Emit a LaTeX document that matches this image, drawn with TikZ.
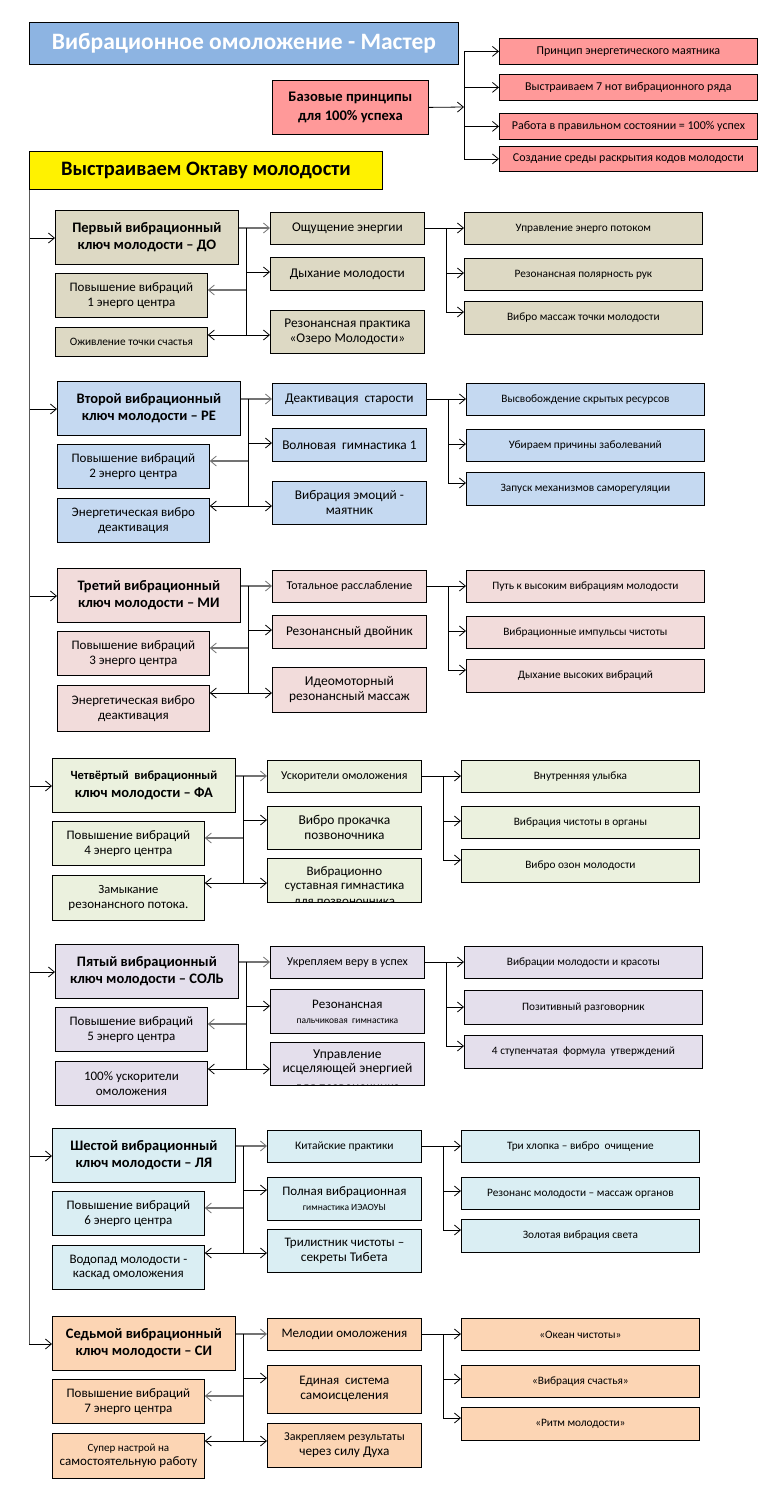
\documentclass[tikz,border=0pt]{standalone}
\usepackage{fontspec}
\setmainfont{Carlito}
\usetikzlibrary{arrows.meta}
\definecolor{cTitle}{RGB}{141,180,226}
\definecolor{cRed}{RGB}{255,153,153}
\definecolor{cSa}{RGB}{221,217,196}
\definecolor{cSb}{RGB}{197,217,241}
\definecolor{cSc}{RGB}{242,220,219}
\definecolor{cSd}{RGB}{235,241,222}
\definecolor{cSe}{RGB}{228,223,236}
\definecolor{cSf}{RGB}{218,238,243}
\definecolor{cSg}{RGB}{252,213,180}
\tikzset{
 bx/.style={draw=black, line width=0.8pt, inner sep=1pt, align=center, anchor=north west, text=black},
 keyf/.style={font=\fontsize{14.5}{17.5}\selectfont\bfseries},
 lf/.style={font=\fontsize{13}{14.5}\selectfont},
 mf/.style={font=\fontsize{13.3}{15}\selectfont},
 rf/.style={font=\fontsize{11.3}{13}\selectfont},
 ln/.style={draw=black, line width=0.8pt},
 arr/.style={ln, -{Straight Barb[length=6pt,width=10pt,line width=0.8pt]}},
 gln/.style={ln, draw=black!55, line width=1.2pt},
 garr/.style={arr, draw=black!55, line width=1.2pt},
}
\newcommand\Section[9]{%
\begin{scope}[shift={(#3,#2)}]
\node[bx,keyf,fill=#4,minimum width=183pt,minimum height=54pt] (k#1) at (55,0) {\tK};
\node[bx,lf,fill=#4,minimum width=152pt,minimum height=44pt] (la#1) at (55,63) {\tLa};
\node[bx,lf,fill=#4,minimum width=152pt,minimum height=#9pt] (lb#1) at (55,117) {\tLb};
\node[bx,mf,fill=#4,minimum width=154pt,minimum height=32pt] (ma#1) at (270,2) {\tMa};
\node[bx,mf,fill=#4,minimum width=154pt,minimum height=#6pt] (mb#1) at (270,#5) {\tMb};
\node[bx,mf,fill=#4,minimum width=154pt,minimum height=#8pt] (mc#1) at (270,#7) {\tMc};
\node[bx,rf,fill=#4,minimum width=238pt,minimum height=32pt] (ra#1) at (464,2) {\tRa};
\node[bx,rf,fill=#4,minimum width=238pt,minimum height=\hRb] (rb#1) at (464,\yRb) {\tRb};
\node[bx,rf,fill=#4,minimum width=238pt,minimum height=33pt] (rc#1) at (464,91) {\tRc};
\coordinate (j#1) at ({29-(#3)},28);
\coordinate (va#1) at (246,18);
\coordinate (vm#1) at (246,62);
\coordinate (vl#1) at (246,80);
\coordinate (vb#1) at (246,125);
\coordinate (wa#1) at (446,18);
\coordinate (wm#1) at (446,63);
\coordinate (wb#1) at (446,102);
\end{scope}
\draw[arr] (j#1) -- (j#1 -| k#1.west);
\draw[gln] (va#1 -| k#1.east) -- (va#1);
\draw[garr] (va#1) -- (va#1 -| ma#1.west);
\draw[ln] (va#1) -- (vb#1);
\draw[arr] (vm#1) -- (vm#1 -| mb#1.west);
\draw[garr] (vl#1) -- (vl#1 -| la#1.east);
\draw[arr] (vb#1) -- (vb#1 -| lb#1.east);
\draw[arr] (vb#1) -- (vb#1 -| mc#1.west);
\draw[ln] (wa#1 -| ma#1.east) -- (wa#1) -- (wb#1);
\draw[arr] (wa#1) -- (wa#1 -| ra#1.west);
\draw[arr] (wm#1) -- (wm#1 -| rb#1.west);
\draw[arr] (wb#1) -- (wb#1 -| rc#1.west);
}
\begin{document}
\begin{tikzpicture}[x=1pt,y=-1pt]
\useasboundingbox (0,0) rectangle (772,1485);
\fill[white] (0,0) rectangle (772,1485);
% top part
\node[bx,fill=cTitle,text=white,font=\fontsize{23.5}{27}\selectfont\bfseries,minimum width=429pt,minimum height=42pt] (title) at (29,22) {Вибрационное омоложение - Мастер};
\node[bx,fill=cRed,font=\fontsize{14.6}{19.5}\selectfont\bfseries,minimum width=156pt,minimum height=54pt] (base) at (272,80) {Базовые принципы\\для 100\% успеха};
\node[bx,fill=cRed,font=\fontsize{12}{13}\selectfont,minimum width=258pt,minimum height=26pt] (p1) at (499,38) {Принцип энергетического маятника};
\node[bx,fill=cRed,font=\fontsize{12}{13}\selectfont,minimum width=258pt,minimum height=26pt] (p2) at (499,74) {Выстраиваем 7 нот вибрационного ряда};
\node[bx,fill=cRed,font=\fontsize{12}{13}\selectfont,minimum width=258pt,minimum height=26pt] (p3) at (499,113) {Работа в правильном состоянии = 100\% успех};
\node[bx,fill=cRed,font=\fontsize{12}{13}\selectfont,minimum width=258pt,minimum height=25pt] (p4) at (499,146) {Создание среды раскрытия кодов молодости};
\coordinate (bj) at (464,107);
\draw[arr] (base.east) -- (bj);
\draw[ln] (bj |- p1.west) -- (bj |- p4.west);
\foreach \p in {p1,p2,p3,p4} \draw[arr] (bj |- \p.west) -- (\p.west);
\node[bx,fill=yellow,font=\fontsize{20.5}{24}\selectfont\bfseries,minimum width=353pt,minimum height=38pt] (oct) at (29,151) {Выстраиваем Октаву молодости};
\def\hRb{32pt}\def\yRb{48}
% Section 1
\def\tK{Первый вибрационный\\ключ молодости – ДО}
\def\tLa{Повышение вибраций\\1 энерго центра}
\def\tLb{\fontsize{11.3}{13}\selectfont Оживление точки счастья}
\def\tMa{Ощущение энергии}
\def\tMb{Дыхание молодости}
\def\tMc{Резонансная практика\\«Озеро Молодости»}
\def\tRa{Управление энерго потоком}
\def\tRb{Резонансная полярность рук}
\def\tRc{Вибро массаж точки молодости}
\Section{1}{210}{0}{cSa}{47}{33}{100}{43}{29}
% Section 2
\def\tK{Второй вибрационный\\ключ молодости – РЕ}
\def\tLa{Повышение вибраций\\2 энерго центра}
\def\tLb{Энергетическая вибро\\деактивация}
\def\tMa{Деактивация \ старости}
\def\tMb{Волновая \ гимнастика 1}
\def\tMc{Вибрация эмоций -\\маятник}
\def\tRa{Высвобождение скрытых ресурсов}
\def\tRb{Убираем причины заболеваний}
\def\tRc{Запуск механизмов саморегуляции}
\Section{2}{381}{2}{cSb}{47}{33}{100}{43}{44}
% Section 3
\def\tK{Третий вибрационный\\ключ молодости – МИ}
\def\tLa{Повышение вибраций\\3 энерго центра}
\def\tLb{Энергетическая вибро\\деактивация}
\def\tMa{\fontsize{12}{13}\selectfont Тотальное расслабление}
\def\tMb{Резонансный двойник}
\def\tMc{\fontsize{13.5}{15}\selectfont Идеомоторный\\резонансный массаж}
\def\tRa{Путь к высоким вибрациям молодости}
\def\tRb{Вибрационные импульсы чистоты}
\def\tRc{Дыхание высоких вибраций}
\Section{3}{568}{2}{cSc}{47}{33}{99}{45}{46}
% Section 4
\def\tK{{\fontsize{12.5}{14}\selectfont Четвёртый \ вибрационный}\\ключ молодости – ФА}
\def\tLa{Повышение вибраций\\4 энерго центра}
\def\tLb{\fontsize{12.5}{14.5}\selectfont Замыкание\\резонансного потока.}
\def\tMa{\fontsize{12}{13}\selectfont Ускорители омоложения}
\def\tMb{\fontsize{13.5}{15}\selectfont Вибро прокачка\\позвоночника}
\def\tMc{}
\def\tRa{Внутренняя улыбка}
\def\tRb{Вибрация чистоты в органы}
\def\tRc{Вибро озон молодости}
\Section{4}{758}{-3}{cSd}{48}{43}{100}{44}{45}
\begin{scope}
\clip (mc4.north west) rectangle (mc4.south east);
\node[font=\fontsize{13}{14}\selectfont,anchor=base,inner sep=0pt] (mc4a) at ([yshift=-17pt]mc4.north) {Вибрационно};
\node[font=\fontsize{13}{14}\selectfont,anchor=base,inner sep=0pt] (mc4b) at ([yshift=-31pt]mc4.north) {суставная гимнастика};
\node[font=\fontsize{13}{14}\selectfont,anchor=base,inner sep=0pt] (mc4c) at ([yshift=-47pt]mc4.north) {для позвоночника};
\end{scope}
% Section 5
\def\hRb{34pt}\def\yRb{46}
\def\tK{Пятый вибрационный\\ключ молодости – СОЛЬ}
\def\tLa{Повышение вибраций\\5 энерго центра}
\def\tLb{100\% ускорители\\омоложения}
\def\tMa{\fontsize{12}{13}\selectfont Укрепляем веру в успех}
\def\tMb{\fontsize{13}{15}\selectfont Резонансная\\{\fontsize{9.5}{11}\selectfont пальчиковая \ гимнастика}}
\def\tMc{}
\def\tRa{Вибрации молодости и красоты}
\def\tRb{Позитивный разговорник}
\def\tRc{4 ступенчатая \ формула \ утверждений}
\Section{5}{944}{0}{cSe}{45}{44}{98}{43}{44}
\begin{scope}
\clip (mc5.north west) rectangle (mc5.south east);
\node[font=\fontsize{13.5}{14}\selectfont,anchor=base,inner sep=0pt] (mc5a) at ([yshift=-16pt]mc5.north) {Управление};
\node[font=\fontsize{13.5}{14}\selectfont,anchor=base,inner sep=0pt] (mc5b) at ([yshift=-30pt]mc5.north) {исцеляющей энергией};
\node[font=\fontsize{13.5}{14}\selectfont,anchor=base,inner sep=0pt] (mc5c) at ([yshift=-49pt]mc5.north) {для позвоночника};
\end{scope}
\def\hRb{32pt}\def\yRb{49}
% Section 6
\def\tK{Шестой вибрационный\\ключ молодости – ЛЯ}
\def\tLa{Повышение вибраций\\6 энерго центра}
\def\tLb{Водопад молодости -\\каскад омоложения}
\def\tMa{\fontsize{11.5}{13}\selectfont Китайские практики}
\def\tMb{\fontsize{13}{15}\selectfont Полная вибрационная\\{\fontsize{9.5}{11}\selectfont гимнастика ИЭАОУЫ}}
\def\tMc{\fontsize{13}{15}\selectfont Трилистник чистоты –\\секреты Тибета}
\def\tRa{Три хлопка – вибро \ очищение}
\def\tRb{Резонанс молодости – массаж органов}
\def\tRc{Золотая вибрация света}
\Section{6}{1128}{-3}{cSf}{49}{43}{101}{43}{44}
% Section 7
\def\tK{Седьмой вибрационный\\ключ молодости – СИ}
\def\tLa{Повышение вибраций\\7 энерго центра}
\def\tLb{\fontsize{11}{13}\selectfont Супер настрой на\\самостоятельную работу}
\def\tMa{\fontsize{13}{14}\selectfont Мелодии омоложения}
\def\tMb{\fontsize{13}{15}\selectfont Единая \ система\\самоисцеления}
\def\tMc{\fontsize{12}{15}\selectfont Закрепляем результаты\\через силу Духа}
\def\tRa{\fontsize{11.3}{13}\selectfont «Океан чистоты»}
\def\tRb{\fontsize{11.3}{13}\selectfont «Вибрация счастья»}
\def\tRc{\fontsize{11.3}{13}\selectfont «Ритм молодости»}
\Section{7}{1316}{-3}{cSg}{49}{48}{107}{44}{45}
% main trunk
\draw[ln,draw=black!65] (oct.south west) -- (j7);
\end{tikzpicture}
\end{document}
